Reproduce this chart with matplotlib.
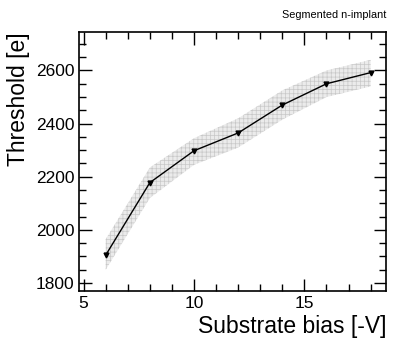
import numpy as np
import matplotlib.pyplot as plt
from matplotlib.ticker import MultipleLocator

plt.rcParams['font.family'] = ['Liberation Sans', 'DejaVu Sans']
plt.rcParams['hatch.color'] = '#c8c8c8'
plt.rcParams['hatch.linewidth'] = 0.5

# Data
bias = [6, 8, 10, 12, 14, 16, 18]
threshold = [1905, 2178, 2298, 2365, 2470, 2550, 2592]
band_lo = [1850, 2120, 2245, 2310, 2415, 2500, 2540]
band_hi = [1965, 2235, 2345, 2420, 2525, 2600, 2640]

fig = plt.figure(figsize=(3.96, 3.40), dpi=100)
ax = fig.add_axes([0.2, 0.144, 0.775, 0.762])

# systematic band
ax.fill_between(bias, band_lo, band_hi, facecolor='#ebebeb', edgecolor='none',
                hatch='++++', lw=0, zorder=1)
ax.plot(bias, threshold, color='black', lw=1, marker='v', ms=3.5, zorder=3)

ax.set_xlim(4.8, 18.7)
ax.set_ylim(1770, 2745)
ax.xaxis.set_major_locator(MultipleLocator(5))
ax.xaxis.set_minor_locator(MultipleLocator(1))
ax.yaxis.set_major_locator(MultipleLocator(200))
ax.yaxis.set_minor_locator(MultipleLocator(50))
ax.tick_params(which='both', direction='in', top=True, right=True, labelsize=12.5, width=1)
ax.tick_params(which='major', length=9)
ax.tick_params(which='minor', length=5)
for s in ax.spines.values():
    s.set_linewidth(1.2)

ax.set_xlabel('Substrate bias [-V]', fontsize=16.5, loc='right', labelpad=3)
ax.set_ylabel('Threshold [e]', fontsize=16.5, loc='top', labelpad=4)

fig.text(0.975, 0.955, 'Segmented n-implant', fontsize=7.8, ha='right', va='center')

fig.savefig('out.png', dpi=100)
